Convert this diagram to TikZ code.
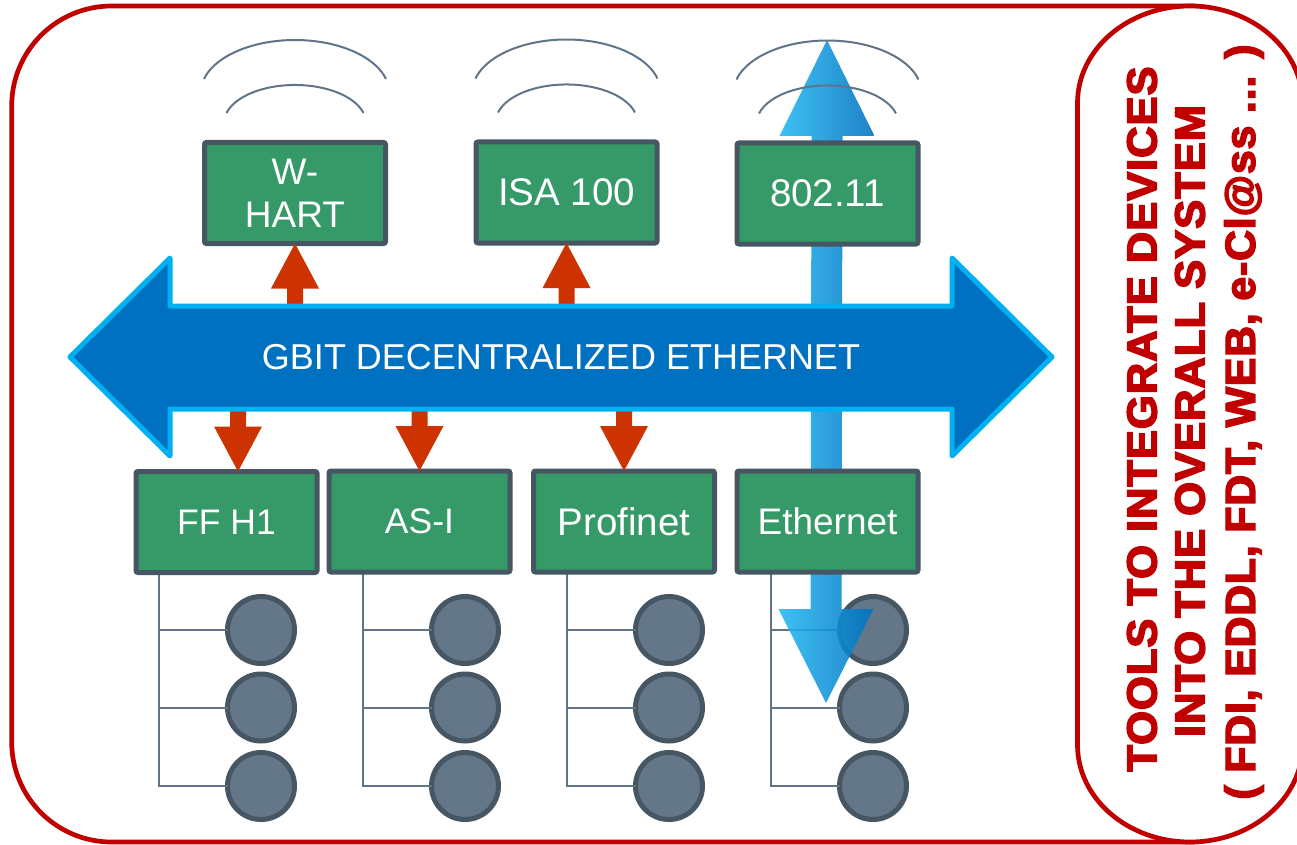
\documentclass[tikz,border=0pt]{standalone}
\usepackage{fontspec}
\setmainfont{Liberation Sans}
\newfontfamily\toolfont[FakeStretch=0.92, LetterSpace=2, FakeBold=3.5]{Liberation Sans Bold}
\usetikzlibrary{calc}

\definecolor{framered}{HTML}{C00000}
\definecolor{boxgreen}{HTML}{359968}
\definecolor{boxline}{HTML}{465663}
\definecolor{devfill}{HTML}{647789}
\definecolor{wire}{HTML}{617487}
\definecolor{arrowred}{HTML}{CC3300}
\definecolor{busfill}{HTML}{0070C0}
\definecolor{busedge}{HTML}{00B0F0}
\definecolor{radiolight}{HTML}{22B9F2}
\definecolor{radiodark}{HTML}{0070C0}

% fat red arrow: #1 tip, #2 tail (same x), #3 = 1 points up, -1 points down
\newcommand\fatarrow[3]{%
  \fill[arrowred] (#1) -- ($(#1)+(24,#3*45)$) -- ($(#1)+(8,#3*45)$)
    -- ($(#2)+(8,0)$) -- ($(#2)+(-8,0)$) -- ($(#1)+(-8,#3*45)$)
    -- ($(#1)+(-24,#3*45)$) -- cycle;}
% one line of the tools panel, set to a given length
\newcommand\toolline[2]{\resizebox{#1}{\height}{#2}}

\begin{document}
\begin{tikzpicture}[x=1pt,y=-1pt,
  box/.style={draw=boxline, fill=boxgreen, line width=5pt, rounded corners=2pt,
    minimum width=181pt, minimum height=101pt, inner sep=0pt, outer sep=0pt,
    text=white, align=center, font=\fontsize{37}{43}\selectfont},
  big/.style={font=\fontsize{38.5}{43}\selectfont},
  small/.style={font=\fontsize{35.5}{43}\selectfont},
  dev/.style={circle, draw=boxline, fill=devfill, line width=5pt,
    minimum size=67pt, inner sep=0pt, outer sep=0pt},
  tree/.style={draw=wire, line width=2pt},
  wave/.style={draw=wire, line width=2pt},
  frameline/.style={draw=framered, line width=4.7pt},
  tooltext/.style={rotate=90, text=framered, inner sep=0pt,
    font=\fontsize{42}{50}\toolfont}]

\useasboundingbox (0,0) rectangle (1297,845);
\clip (0,0) rectangle (1297,845);

% outer frame and the tools panel on the right
\draw[frameline, rounded corners=100pt] (11.7,6) rectangle (1290,842);
\draw[frameline, fill=white]
  (1077.5,103) arc[start angle=180, end angle=360, x radius=112.5, y radius=97]
  -- (1302.5,745) arc[start angle=0, end angle=180, x radius=112.5, y radius=97]
  -- cycle;
\node[tooltext] (tools1) at (1142,419)
  {\toolline{705pt}{TOOLS TO INTEGRATE DEVICES}};
\node[tooltext] (tools2) at (1190,421)
  {\toolline{632pt}{INTO THE OVERALL SYSTEM}};
\node[tooltext] (tools3) at (1244,422)
  {\toolline{755pt}{( FDI, EDDL, FDT, WEB, e-Cl@ss ... )}};

% field devices
\foreach \name/\x in {ff/159, as/363, pn/567, et/771}{
  \node[dev] (\name1) at (\x+102,630) {};
  \node[dev] (\name2) at (\x+102,707.5) {};
  \node[dev] (\name3) at (\x+102,786) {};
  \coordinate (\name top) at (\x,574);
}
\foreach \name in {ff, as, pn, et}{
  \draw[tree] (\name top) |- (\name1);
  \draw[tree] (\name top) |- (\name2);
  \draw[tree] (\name top) |- (\name3);
}

% radio link arrow through the 802.11 and Ethernet segments
\coordinate (uptip) at (827,40);
\coordinate (dntip) at (826,703);
\shade[left color=radiolight, right color=radiodark, opacity=0.88]
  (uptip) -- ($(uptip)+(47.5,96)$) -- ($(uptip)+(15.5,96)$)
  -- ($(dntip)+(15.5,-94)$) -- ($(dntip)+(47.5,-94)$) -- (dntip)
  -- ($(dntip)+(-47.5,-94)$) -- ($(dntip)+(-15.5,-94)$)
  -- ($(uptip)+(-15.5,96)$) -- ($(uptip)+(-47.5,96)$) -- cycle;

% wireless segments
\node[box] (whart) at (295,193) {W-\\HART};
\node[box, big] (isa) at (566.5,192.5) {ISA 100};
\node[box, big] (wlan) at (827.5,193.5) {802.11};

\foreach \n in {whart, isa, wlan}{
  \draw[wave] ($(\n.north)+(-91,-63.5)$)
    arc[start angle=195, end angle=345, x radius=94.2, y radius=52.6];
  \draw[wave] ($(\n.north)+(-68.5,-29.5)$)
    arc[start angle=195, end angle=345, x radius=70.9, y radius=37.8];
}

% wired segments
\node[box, small] (ffh1) at (226.5,522) {FF H1};
\node[box, small] (asi) at (419.5,521.5) {AS-I};
\node[box, big] (profi) at (624,521.5) {Profinet};
\node[box] (ether) at (827.5,521.5) {Ethernet};

% links between the backbone and the segments
\coordinate (ethN) at (0,320);
\coordinate (ethS) at (0,395);
\coordinate (t1) at (whart.south);
\coordinate (b1) at (whart.south |- ethN);
\coordinate (t2) at (isa.south);
\coordinate (b2) at (isa.south |- ethN);
\coordinate (t3) at ($(ffh1.north)+(11.5,0)$);
\coordinate (b3) at (t3 |- ethS);
\coordinate (t4) at (asi.north);
\coordinate (b4) at (asi.north |- ethS);
\coordinate (t5) at (profi.north);
\coordinate (b5) at (profi.north |- ethS);
\fatarrow{t1}{b1}{1}
\fatarrow{t2}{b2}{1}
\fatarrow{t3}{b3}{-1}
\fatarrow{t4}{b4}{-1}
\fatarrow{t5}{b5}{-1}

% backbone
\draw[fill=busfill, draw=busedge, line width=5pt, line join=round]
  (70,357) -- (170,258) -- (170,306) -- (952,306) -- (952,258) -- (1052,357)
  -- (952,456) -- (952,409) -- (170,409) -- (170,456) -- cycle;
\node[text=white, font=\fontsize{36}{40}\selectfont] (bus) at (561,357.5)
  {GBIT DECENTRALIZED ETHERNET};
\end{tikzpicture}
\end{document}
